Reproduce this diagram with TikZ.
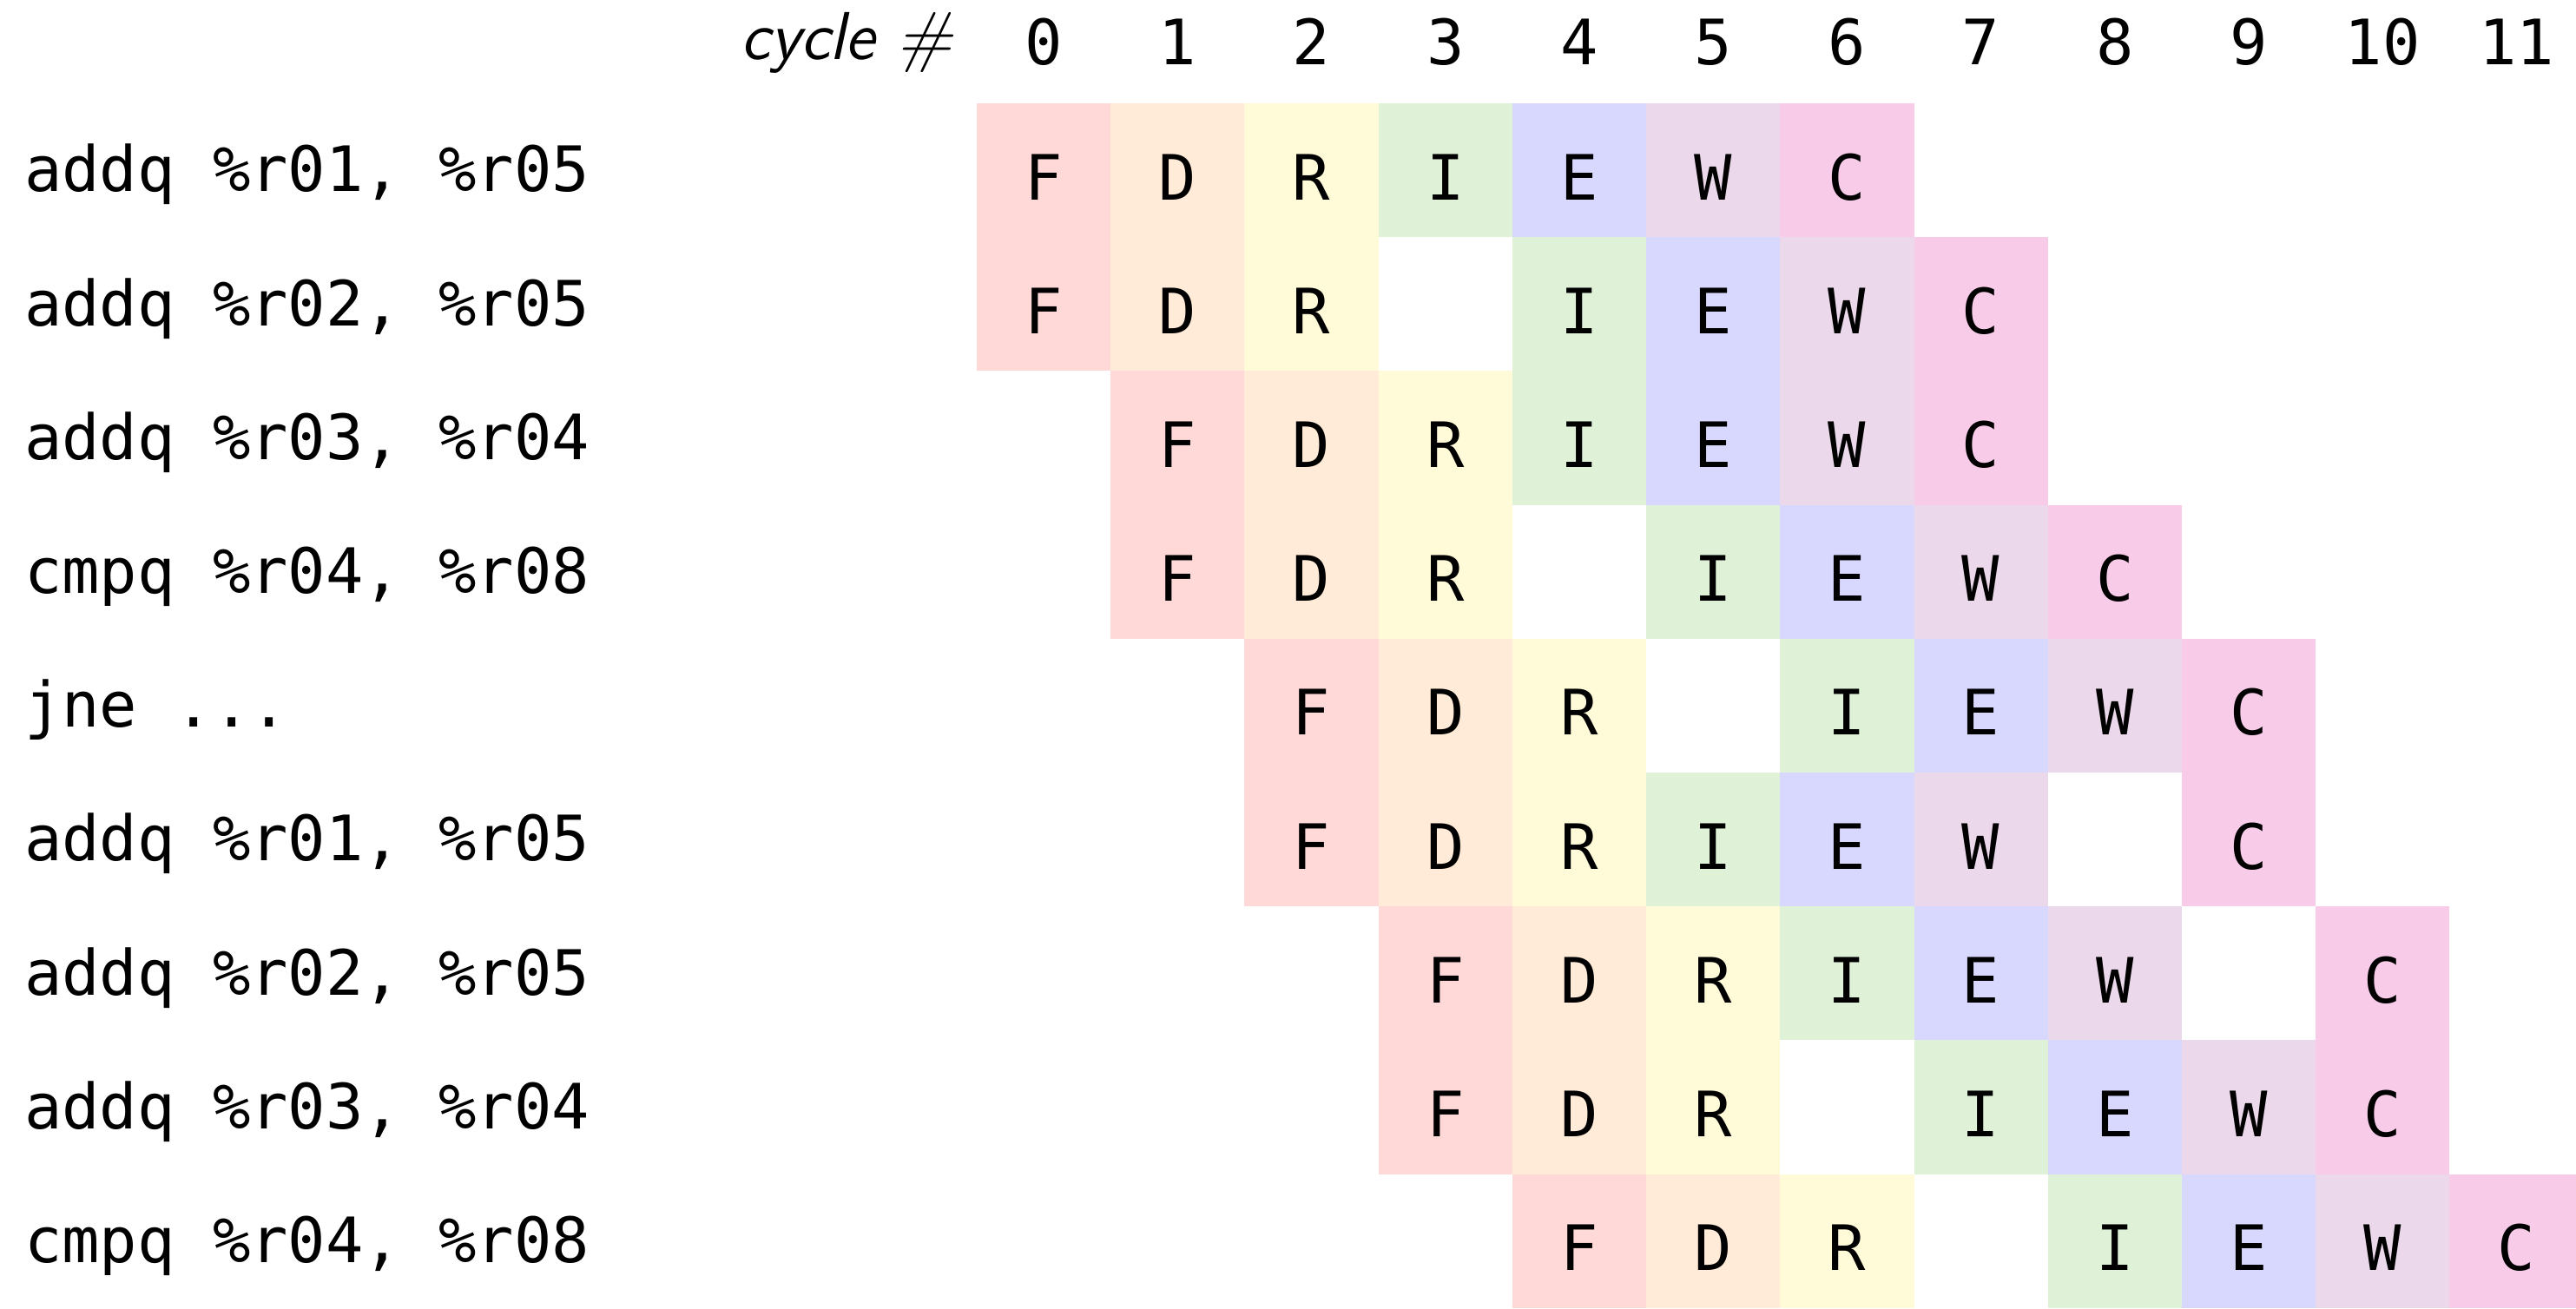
\documentclass[tikz,border=0pt]{standalone}
\usepackage{fontspec}
\setmonofont{DejaVu Sans Mono}

\definecolor{colF}{RGB}{255,216,216}
\definecolor{colD}{RGB}{255,235,216}
\definecolor{colR}{RGB}{255,250,216}
\definecolor{colI}{RGB}{223,242,216}
\definecolor{colE}{RGB}{216,216,255}
\definecolor{colW}{RGB}{235,216,235}
\definecolor{colC}{RGB}{248,204,232}

\tikzset{
  stage/.style={minimum size=1cm, inner sep=0pt, text height=0.5cm, text depth=0.06cm,
    font=\fontsize{13.3}{16}\selectfont\ttfamily},
  instr/.style={anchor=base west, inner sep=0pt, font=\fontsize{13.3}{16}\selectfont\ttfamily},
  cycnum/.style={anchor=base, inner sep=0pt, font=\fontsize{13.3}{16}\selectfont\ttfamily},
}

\begin{document}
\begin{tikzpicture}
  \useasboundingbox (-7.296,0.772) rectangle (11.945,-9.001);
  % header
  \node[anchor=base east, inner sep=0pt, font=\fontsize{14.4}{17}\selectfont\sffamily\itshape] (cyc) at (-0.175,0.33) {cycle \#};
  \foreach \c in {0,...,11}
    \node[cycnum] (num\c) at (\c+0.5,0.286) {\c};
  % one row per instruction: label, then columns of F D R I E W C
  \foreach \r/\txt/\fc/\dc/\rc/\ic/\ec/\wc/\cc in {
      0/{addq \%r01, \%r05}/0/1/2/3/4/5/6,
      1/{addq \%r02, \%r05}/0/1/2/4/5/6/7,
      2/{addq \%r03, \%r04}/1/2/3/4/5/6/7,
      3/{cmpq \%r04, \%r08}/1/2/3/5/6/7/8,
      4/{jne ...}/2/3/4/6/7/8/9,
      5/{addq \%r01, \%r05}/2/3/4/5/6/7/9,
      6/{addq \%r02, \%r05}/3/4/5/6/7/8/10,
      7/{addq \%r03, \%r04}/3/4/5/7/8/9/10,
      8/{cmpq \%r04, \%r08}/4/5/6/8/9/10/11} {
    \node[instr] (ins\r) at (-7.12,-\r-0.66) {\txt};
    \foreach \s/\x in {F/\fc,D/\dc,R/\rc,I/\ic,E/\ec,W/\wc,C/\cc}
      \node[stage, fill=col\s] (\s\r) at (\x+0.5,-\r-0.5) {\s};
  }
\end{tikzpicture}
\end{document}
